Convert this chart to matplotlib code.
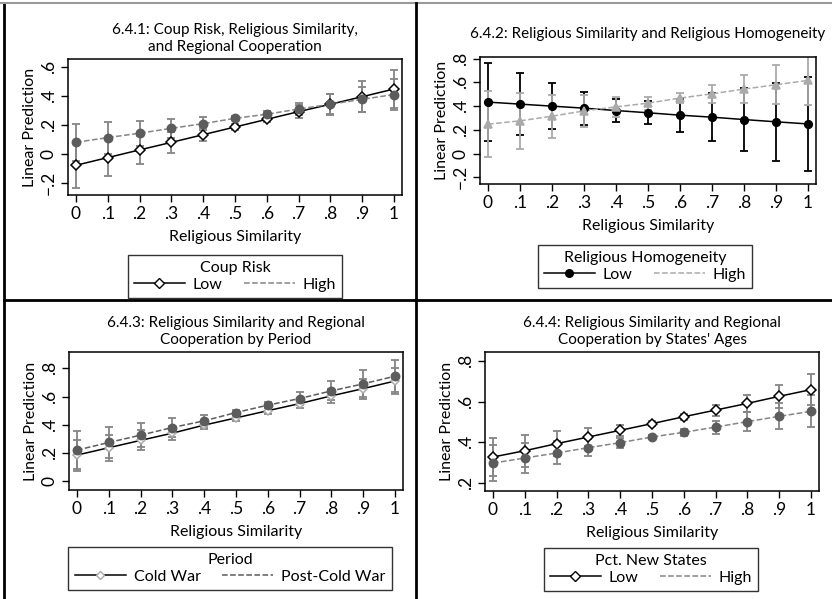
import matplotlib.pyplot as plt
from matplotlib.lines import Line2D

plt.rcParams['font.family'] = ['Lato', 'DejaVu Sans']

X = [0, .1, .2, .3, .4, .5, .6, .7, .8, .9, 1]
X_LABELS = ["0", ".1", ".2", ".3", ".4", ".5", ".6", ".7", ".8", ".9", "1"]

# 6.4.1 Coup risk
coup_low = [-0.078, -0.025, 0.028, 0.080, 0.133, 0.186, 0.239, 0.292, 0.343, 0.395, 0.448]
coup_low_ci = [0.155, 0.127, 0.097, 0.070, 0.043, 0.020, 0.020, 0.045, 0.072, 0.105, 0.133]
coup_high = [0.080, 0.113, 0.143, 0.177, 0.209, 0.246, 0.274, 0.310, 0.343, 0.377, 0.410]
coup_high_ci = [0.130, 0.110, 0.087, 0.065, 0.044, 0.015, 0.020, 0.040, 0.070, 0.088, 0.110]

# 6.4.2 Religious homogeneity
homog_low = [0.434, 0.417, 0.400, 0.383, 0.363, 0.344, 0.324, 0.307, 0.287, 0.268, 0.250]
homog_low_ci = [0.330, 0.260, 0.195, 0.140, 0.098, 0.096, 0.138, 0.200, 0.265, 0.330, 0.396]
homog_high = [0.248, 0.276, 0.315, 0.360, 0.394, 0.425, 0.468, 0.504, 0.544, 0.580, 0.617]
homog_high_ci = [0.280, 0.235, 0.180, 0.135, 0.085, 0.055, 0.040, 0.076, 0.120, 0.165, 0.210]

# 6.4.3 Period
cold = [0.186, 0.238, 0.290, 0.341, 0.398, 0.449, 0.500, 0.550, 0.605, 0.656, 0.710]
cold_ci = [0.110, 0.093, 0.070, 0.050, 0.025, 0.020, 0.020, 0.030, 0.050, 0.070, 0.090]
post = [0.221, 0.275, 0.327, 0.381, 0.428, 0.487, 0.539, 0.586, 0.640, 0.690, 0.744]
post_ci = [0.137, 0.113, 0.087, 0.064, 0.042, 0.020, 0.020, 0.047, 0.068, 0.096, 0.115]

# 6.4.4 States' ages
new_low = [0.327, 0.358, 0.393, 0.426, 0.459, 0.492, 0.526, 0.559, 0.592, 0.627, 0.660]
new_low_ci = [0.094, 0.079, 0.061, 0.046, 0.028, 0.012, 0.015, 0.027, 0.043, 0.058, 0.076]
new_high = [0.297, 0.322, 0.347, 0.373, 0.398, 0.426, 0.449, 0.475, 0.502, 0.528, 0.553]
new_high_ci = [0.090, 0.073, 0.057, 0.041, 0.025, 0.012, 0.018, 0.032, 0.048, 0.064, 0.080]

W, H = 832, 599
fig = plt.figure(figsize=(W / 100, H / 100), dpi=100)


def box(left, top, right, bottom):
    return [left / W, (H - bottom) / H, (right - left) / W, (bottom - top) / H]


GRAY = "#858585"
DARK = "#5c5c5c"
LIGHT = "#aaaaaa"


def series(ax, y, ci, line_color, ls, marker, mfc, mec, ecolor, ms, in_legend):
    ax.errorbar(X, y, yerr=ci, fmt="none", ecolor=ecolor, elinewidth=1.3,
                capsize=3, capthick=1.3, zorder=2)
    ax.plot(X, y, color=line_color, ls=ls, lw=1.1, zorder=3)
    ax.plot(X, y, ls="none", marker=marker, ms=ms, mfc=mfc, mec=mec,
            mew=1.1, zorder=4)
    if in_legend:
        return Line2D([], [], color=line_color, ls=ls, lw=1.1, marker=marker,
                      ms=ms, mfc=mfc, mec=mec, mew=1.0)
    return Line2D([], [], color=line_color, ls=ls, lw=1.1)


def setup(ax, title, yticks, ylabels, ylim, title_pad=6):
    ax.set_xlim(-0.025, 1.025)
    ax.set_ylim(*ylim)
    ax.set_xticks(X)
    ax.set_xticklabels(X_LABELS)
    ax.set_yticks(yticks)
    ax.set_yticklabels(ylabels, rotation=90, va="center")
    ax.tick_params(direction="out", length=5, width=1, labelsize=12.5, pad=3)
    ax.set_xlabel("Religious Similarity", fontsize=11.5, labelpad=6)
    ax.set_ylabel("Linear Prediction", fontsize=11.5, labelpad=3)
    ax.set_title(title, fontsize=11, pad=title_pad, linespacing=1.2)
    for s in ax.spines.values():
        s.set_linewidth(1.1)


def legend(ax, handles, labels, title, center_x, top_y):
    leg = ax.legend(handles, labels, title=title, ncol=2, loc="upper center",
                    bbox_to_anchor=(center_x / W, (H - top_y) / H),
                    bbox_transform=fig.transFigure, fontsize=11.5,
                    title_fontsize=11.5, frameon=True, fancybox=False,
                    edgecolor="black", handlelength=3.2, columnspacing=1.3,
                    borderpad=0.4, handletextpad=0.5, labelspacing=0.15,
                    borderaxespad=0)
    leg.get_frame().set_linewidth(1.0)


# Panel 1
ax1 = fig.add_axes(box(68, 59, 402, 195))
h1 = series(ax1, coup_low, coup_low_ci, "black", "-", "D", "white", "black", GRAY, 5, True)
h2 = series(ax1, coup_high, coup_high_ci, GRAY, "--", "o", DARK, DARK, GRAY, 6, False)
setup(ax1, "6.4.1: Coup Risk, Religious Similarity,\nand Regional Cooperation",
      [-0.2, 0, 0.2, 0.4, 0.6], ["\u2212.2", "0", ".2", ".4", ".6"], (-0.283, 0.655))
legend(ax1, [h1, h2], ["Low", "High"], "Coup Risk", 235, 255)

# Panel 2
ax2 = fig.add_axes(box(480, 57, 816, 184))
h1 = series(ax2, homog_low, homog_low_ci, "black", "-", "o", "black", "black", "black", 5.5, True)
h2 = series(ax2, homog_high, homog_high_ci, LIGHT, "--", "^", LIGHT, LIGHT, LIGHT, 6, False)
setup(ax2, "6.4.2: Religious Similarity and Religious Homogeneity",
      [-0.2, 0, 0.2, 0.4, 0.6, 0.8], ["\u2212.2", "0", ".2", ".4", ".6", ".8"],
      (-0.256, 0.814), title_pad=14)
legend(ax2, [h1, h2], ["Low", "High"], "Religious Homogeneity", 645, 245)

# Panel 3
ax3 = fig.add_axes(box(69, 352, 403, 490))
h1 = series(ax3, cold, cold_ci, "black", "-", "D", "white", LIGHT, GRAY, 4.5, True)
h2 = series(ax3, post, post_ci, DARK, "--", "o", DARK, DARK, GRAY, 6, False)
setup(ax3, "6.4.3: Religious Similarity and Regional\nCooperation by Period",
      [0, 0.2, 0.4, 0.6, 0.8], ["0", ".2", ".4", ".6", ".8"], (-0.061, 0.915))
legend(ax3, [h1, h2], ["Cold War", "Post-Cold War"], "Period", 230, 547)

# Panel 4
ax4 = fig.add_axes(box(485, 352, 819, 491))
h1 = series(ax4, new_low, new_low_ci, "black", "-", "D", "white", "black", GRAY, 5, True)
h2 = series(ax4, new_high, new_high_ci, GRAY, "--", "o", DARK, DARK, GRAY, 6, False)
setup(ax4, "6.4.4: Religious Similarity and Regional\nCooperation by States' Ages",
      [0.2, 0.4, 0.6, 0.8], [".2", ".4", ".6", ".8"], (0.159, 0.846))
legend(ax4, [h1, h2], ["Low", "High"], "Pct. New States", 651, 548)

# panel frame lines
for xs, ys, c, lw in [
    ([4, 4], [3, H], "black", 2),
    ([0, W], [3, 3], "#999999", 1.5),
    ([416, 416], [3, H], "black", 2),
    ([4, W], [300, 300], "black", 2),
]:
    fig.add_artist(Line2D([x / W for x in xs], [(H - y) / H for y in ys],
                          color=c, lw=lw, transform=fig.transFigure))

fig.savefig("out.png", dpi=100)
